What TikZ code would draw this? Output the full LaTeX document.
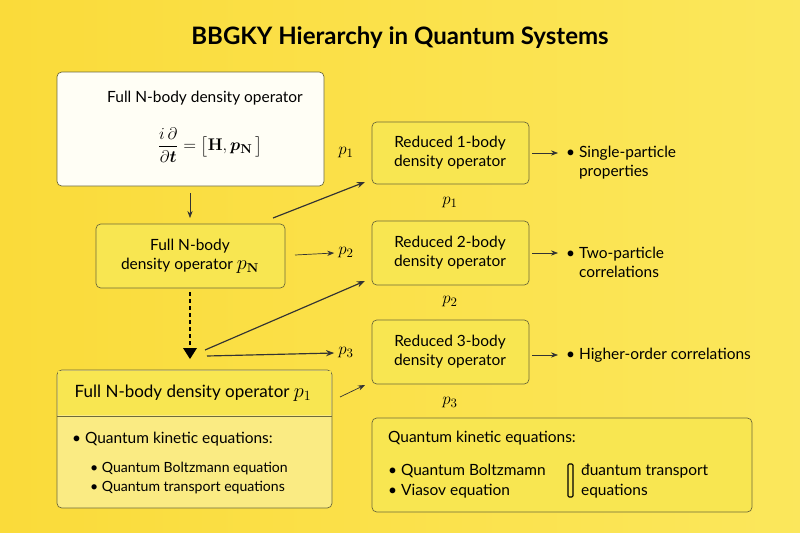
\documentclass[tikz,border=0pt]{standalone}
\usepackage{amsmath}
\usepackage{bm}
\usepackage[no-math]{fontspec}
\setmainfont{Lato}
\usetikzlibrary{arrows.meta,positioning}
\definecolor{bgyel}{HTML}{FAE33F}
\definecolor{boxyel}{HTML}{F8E651}
\definecolor{boxlt}{HTML}{FAEB83}
\definecolor{edge}{HTML}{6E6A3A}
\tikzset{
  box/.style={draw=edge,rounded corners=4pt,fill=boxyel,line width=0.6pt},
  txt/.style={font=\fontsize{13.2}{16}\selectfont,align=center},
  lbl/.style={font=\fontsize{15}{17}\selectfont},
  arr/.style={-{Stealth[length=7pt]},line width=1pt,draw=black!80},
  thin/.style={-{Stealth[length=6pt]},line width=0.6pt,draw=black!80}
}
\begin{document}
\begin{tikzpicture}[x=0.03cm,y=-0.03cm]
\useasboundingbox (0,0) rectangle (800,533);
\shade[left color=bgyel!92!orange,right color=bgyel!85!white] (0,0) rectangle (800,533);
% title
\node[font=\fontsize{20.5}{24}\selectfont\bfseries] (title) at (400,38) {BBGKY Hierarchy in Quantum Systems};
% left column
\draw[box,fill=white!96!yellow] (57,72) rectangle (324,186);
\node[txt] (full) at (205,98) {Full N-body density operator};
\node[font=\fontsize{15}{17}\selectfont] (eq) at (210,145) {$\dfrac{i\,\partial}{\partial \bm{t}} = \bigl[\mathbf{H}, \bm{p}_{\mathbf{N}}\,\bigr]$};
\draw[box] (96,224) rectangle (285,288);
\node[txt] (fullN) at (190,256) {Full N-body\\density operator \fontsize{16}{16}\selectfont$p_{\mathbf{N}}$};
\draw[box,fill=boxlt] (57,370) rectangle (332,508);
\draw[box,rounded corners=0pt,draw=none] (58,371) rectangle (331,415);
\draw[edge,line width=0.6pt] (57,416) -- (332,416);
\node[font=\fontsize{14.5}{17}\selectfont] (full1) at (193,393) {Full N-body density operator \fontsize{17}{17}\selectfont$p_1$};
\node[txt,align=left,anchor=west] (kin) at (68,439) {\textbullet\ Quantum kinetic equations:};
\node[font=\fontsize{12}{15}\selectfont,align=left,anchor=west] (kin2) at (86,478) {\textbullet\ Quantum Boltzmann equation\\[2pt]\textbullet\ Quantum transport equations};
% reduced operators
\draw[box] (372,122) rectangle (529,184);
\node[txt] (red1) at (450,153) {Reduced 1-body\\density operator};
\draw[box] (372,221) rectangle (529,285);
\node[txt] (red2) at (450,253) {Reduced 2-body\\density operator};
\draw[box] (372,320) rectangle (529,384);
\node[txt] (red3) at (450,352) {Reduced 3-body\\density operator};
\node[lbl] (pa) at (346,153) {$p_1$};
\node[lbl] (pb) at (346,253) {$p_2$};
\node[lbl] (pc) at (346,353) {$p_3$};
\node[lbl] (pa2) at (450,203) {$p_1$};
\node[lbl] (pb2) at (450,302) {$p_2$};
\node[lbl] (pc2) at (450,403) {$p_3$};
% outputs
\node[txt,align=left,anchor=west] (out1) at (562,163) {\textbullet\ Single-particle\\\phantom{\textbullet\ }properties};
\node[txt,align=left,anchor=west] (out2) at (562,262) {\textbullet\ Two-particle\\\phantom{\textbullet\ }correlations};
\node[txt,align=left,anchor=west] (out3) at (562,355) {\textbullet\ Higher-order correlations};
% bottom right box
\draw[box] (372,418) rectangle (752,512);
\node[txt,anchor=west] (qk) at (384,438) {Quantum kinetic equations:};
\node[txt,align=left,anchor=west] (qb) at (384,481) {\textbullet\ Quantum Boltzmamn\\[1pt]\textbullet\ Viasov equation};
\node[txt,align=left,anchor=west] (qt) at (577,481) {đuantum transport\\[1pt]equations};
\draw[line width=0.9pt,rounded corners=1pt] (568,464) rectangle (573,497);
% connectors
\coordinate (c1) at (190,193);
\coordinate (c2) at (190,218);
\draw[thin] (c1) -- (c2);
\draw[arr] (273,218) -- (365,182);
\draw[thin] (295,255) -- (pb.west);
\draw[line width=1.4pt,dash pattern=on 3pt off 3pt] (190,292) -- (190,348);
\fill (183,348) -- (197,348) -- (190,359) -- cycle;
\draw[arr] (205,350) -- (365,281);
\draw[arr] (207,356) -- (pc.west);
\draw[thin] (340,397) -- (365,385);
\draw[thin] (532,153) -- (558,153);
\draw[thin] (532,253) -- (558,253);
\draw[thin] (532,355) -- (558,355);
\end{tikzpicture}
\end{document}
